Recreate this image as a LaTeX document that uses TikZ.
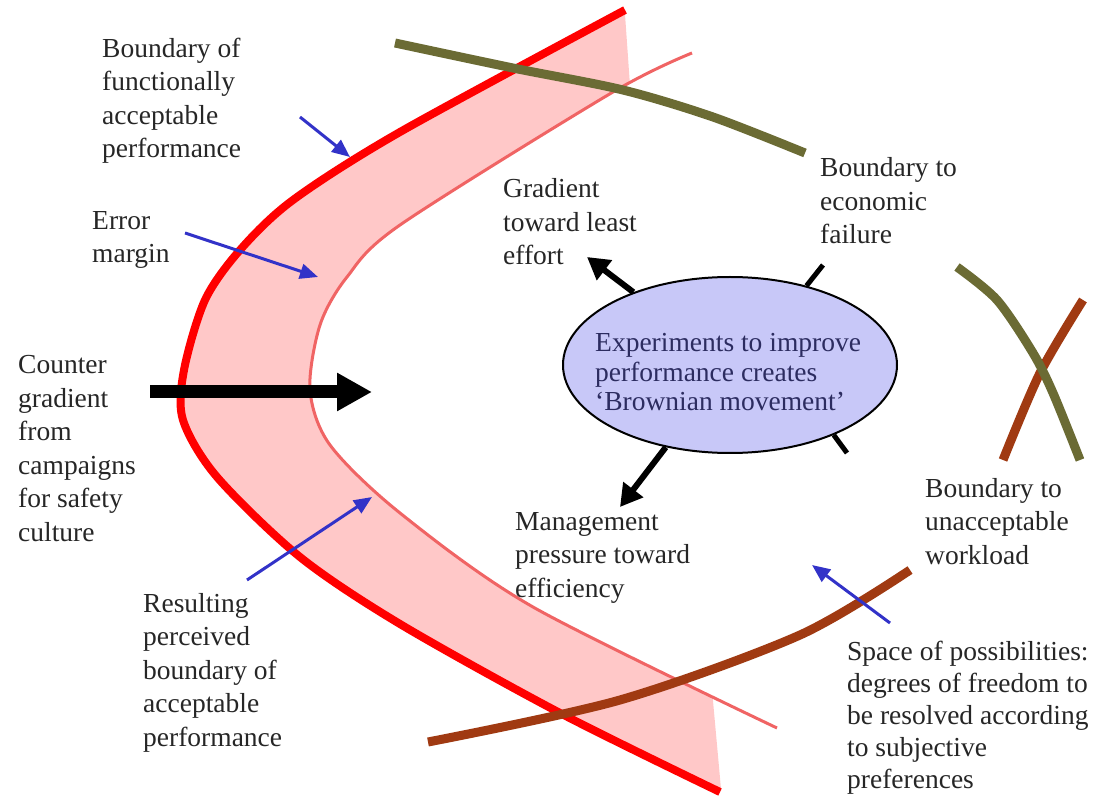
\documentclass[tikz,border=0pt]{standalone}
\usepackage{fontspec}
\setmainfont{Liberation Serif}
\usetikzlibrary{arrows.meta,shapes.geometric}

\definecolor{MRed}{HTML}{FF0000}
\definecolor{MSalmon}{HTML}{F06464}
\definecolor{MPink}{HTML}{FFC8C8}
\definecolor{MOlive}{HTML}{6B6B34}
\definecolor{MBrown}{HTML}{A03A12}
\definecolor{MBlue}{HTML}{3232C8}
\definecolor{MLavender}{HTML}{C8C8F8}
\definecolor{MNavy}{HTML}{2C2C60}
\definecolor{MText}{HTML}{262626}

\newcommand{\lblfont}{\fontsize{27.5}{33.5}\selectfont}

\tikzset{
  lbl/.style={anchor=base west, align=left, inner sep=0pt, text=MText, font=\lblfont},
  pointer/.style={MBlue, line width=3pt, -{Triangle[length=18pt,width=15pt]}},
  push/.style={line width=6pt, -{Triangle[length=22pt,width=24pt]}},
  nub/.style={line width=5pt},
  bound/.style={line width=9pt}
}

\begin{document}
\begin{tikzpicture}[x=1pt,y=-1pt]
\useasboundingbox (0,0) rectangle (1101,799);

% error margin band
\begin{scope}
  \clip (0,0) -- (624,0) -- (631,100) -- (760,400) -- (712,690) -- (722,800) -- (0,800) -- cycle;
  \fill[MPink] plot[smooth] coordinates {(625,10) (400,132) (293,200) (240,250) (205,300) (184,370) (183,420) (217,477) (300,557) (400,624) (560,713) (720,792)}
    -- plot[smooth] coordinates {(777,728) (533,607) (400,513) (330,445) (310,390) (320,325) (347,277) (400,225) (613,92) (692,53)} -- cycle;
\end{scope}
\draw[MSalmon, line width=3pt] plot[smooth] coordinates {(692,53) (613,92) (400,225) (347,277) (320,325) (310,390) (330,445) (400,513) (533,607) (777,728)};
\draw[MRed, line width=8pt] plot[smooth] coordinates {(625,10) (400,132) (293,200) (240,250) (205,300) (184,370) (183,420) (217,477) (300,557) (400,624) (560,713) (720,792)};

% boundaries
\draw[bound, MOlive] plot[smooth] coordinates {(395,43) (513,68) (623,90) (713,117) (805,153)};
\draw[bound, MBrown] plot[smooth] coordinates {(1083,300) (1040,373) (1003,460)};
\draw[bound, MOlive] plot[smooth] coordinates {(957,267) (997,300) (1033,353) (1053,393) (1080,460)};
\draw[bound, MBrown] plot[smooth] coordinates {(428,742) (620,700) (800,635) (910,570)};

% brownian movement
\node[ellipse, draw, line width=2pt, fill=MLavender, minimum width=334pt, minimum height=176pt, inner sep=0pt] (exper) at (730,365) {};
\node[lbl, text=MNavy, font=\fontsize{27.5}{29.5}\selectfont] (experTxt) at (595,411) {Experiments to improve\\performance creates\\‘Brownian movement’};

\coordinate (leastTip) at (587,257);
\coordinate (effTip) at (620,507);
\coordinate (econEnd) at (823,265);
\coordinate (workEnd) at (847,453);
\draw[push] (exper.143) -- (leastTip);
\draw[push] (exper.232) -- (effTip);
\draw[nub] (exper.46) -- (econEnd);
\draw[nub] (exper.326) -- (workEnd);

% counter gradient
\coordinate (cgTail) at (150,392);
\coordinate (cgTip) at (372,392);
\draw[line width=13pt, -{Triangle[length=35pt,width=36pt]}] (cgTail) -- (cgTip);

% pointers
\coordinate (funcTail) at (300,117);
\coordinate (funcTip) at (350,157);
\coordinate (errTail) at (185,233);
\coordinate (errTip) at (318,277);
\coordinate (percTail) at (247,580);
\coordinate (percTip) at (372,497);
\coordinate (spaceTail) at (890,623);
\coordinate (spaceTip) at (812,565);
\draw[pointer] (funcTail) -- (funcTip);
\draw[pointer] (errTail) -- (errTip);
\draw[pointer] (percTail) -- (percTip);
\draw[pointer] (spaceTail) -- (spaceTip);

% labels (placed at the baseline of their last line)
\node[lbl] (funcLbl) at (102,158) {Boundary of\\functionally\\acceptable\\performance};
\node[lbl] (errLbl) at (92,263) {Error\\margin};
\node[lbl] (counterLbl) at (18,541) {Counter\\gradient\\from\\campaigns\\for safety\\culture};
\node[lbl] (percLbl) at (143,746) {Resulting\\perceived\\boundary of\\acceptable\\performance};
\node[lbl] (leastLbl) at (503,265) {Gradient\\toward least\\effort};
\node[lbl] (econLbl) at (820,244) {Boundary to\\economic\\failure};
\node[lbl] (workLbl) at (925,564) {Boundary to\\unacceptable\\workload};
\node[lbl] (effLbl) at (515,597) {Management\\pressure toward\\efficiency};
\node[lbl, font=\fontsize{27.5}{32}\selectfont] (spaceLbl) at (847,788) {Space of possibilities:\\degrees of freedom to\\be resolved according\\to subjective\\preferences};
\end{tikzpicture}
\end{document}
